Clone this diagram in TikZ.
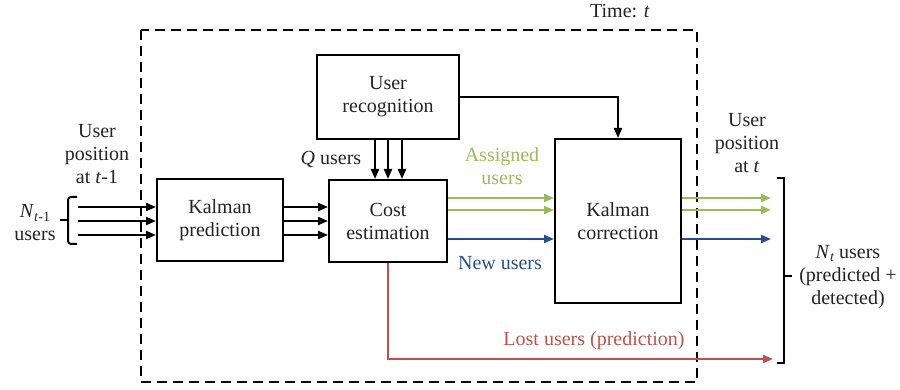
\documentclass[tikz,border=0pt]{standalone}
\usepackage{fontspec}
\setmainfont{Liberation Serif}
\usetikzlibrary{arrows.meta}
\definecolor{agreen}{RGB}{155,187,89}
\definecolor{ablue}{RGB}{38,78,135}
\definecolor{ared}{RGB}{192,80,77}
\definecolor{txt}{RGB}{35,35,35}
\newcommand{\mysub}[1]{\raisebox{-0.35ex}{\fontsize{14}{14}\selectfont #1}}
\begin{document}
\begin{tikzpicture}[x=1pt,y=-1pt,
  font=\rmfamily\fontsize{20}{23}\selectfont,
  box/.style={draw=black, line width=2pt, align=center, inner sep=0pt, text=txt},
  lbl/.style={align=center, inner sep=0pt, text=txt},
  conn/.style={line width=2pt, -{Triangle[length=10pt,width=8pt]}},
  frame/.style={line width=2pt, dash pattern=on 10pt off 6pt}
]
\useasboundingbox (0,0) rectangle (900,390);

% dashed time frame
\draw[frame] (141,30) rectangle (697,382);
\node[lbl] (time) at (620,11) {Time: \textit{t}};

% blocks
\node[box, minimum width=126pt, minimum height=82pt] (kp) at (220,220) {Kalman\\prediction};
\node[box, minimum width=118pt, minimum height=82pt] (ce) at (388,221) {Cost\\estimation};
\node[box, minimum width=142pt, minimum height=84pt] (ur) at (388,97) {User\\recognition};
\node[box, minimum width=126pt, minimum height=164pt] (kc) at (618,221) {Kalman\\correction};

% input side
\coordinate (in1) at (78,207);
\coordinate (in2) at (78,221);
\coordinate (in3) at (78,235);
\draw[line width=2pt, rounded corners=3pt] (77,197) -- (68,197) -- (68,244) -- (77,244);
\draw[line width=2pt] (68,220.5) -- (60,220.5);
\draw[conn] (in1) -- (in1 -| kp.west);
\draw[conn] (in2) -- (in2 -| kp.west);
\draw[conn] (in3) -- (in3 -| kp.west);
\node[lbl] (posin) at (97,154) {User\\position\\at \textit{t}-1};
\node[lbl] (nin) at (35,223) {\textit{N}\mysub{\textit{t}-1}\\users};

% prediction -> cost
\draw[conn] (in1 -| kp.east) -- (in1 -| ce.west);
\draw[conn] (in2 -| kp.east) -- (in2 -| ce.west);
\draw[conn] (in3 -| kp.east) -- (in3 -| ce.west);

% recognition -> cost
\draw[conn] ([xshift=-13pt]ur.south) -- ([xshift=-13pt]ce.north);
\draw[conn] (ur.south) -- (ce.north);
\draw[conn] ([xshift=14pt]ur.south) -- ([xshift=14pt]ce.north);
\node[lbl] (q) at (331,160) {\textit{Q} users};

% recognition -> correction
\draw[conn] (ur.east) -| (kc.north);

% cost -> correction
\coordinate (o1) at (771,198);
\coordinate (o2) at (771,210);
\coordinate (o3) at (771,239);
\draw[conn, agreen] (o1 -| ce.east) -- (o1 -| kc.west);
\draw[conn, agreen] (o2 -| ce.east) -- (o2 -| kc.west);
\draw[conn, ablue] (o3 -| ce.east) -- (o3 -| kc.west);
\node[lbl, text=agreen] (ass) at (502,166) {Assigned\\users};
\node[lbl, text=ablue] (new) at (500,263) {New users};

% correction -> output
\draw[conn, agreen] (o1 -| kc.east) -- (o1);
\draw[conn, agreen] (o2 -| kc.east) -- (o2);
\draw[conn, ablue] (o3 -| kc.east) -- (o3);

% lost users
\coordinate (lost) at (773,359);
\draw[conn, ared] (ce.south) |- (lost);
\node[lbl, text=ared] (lostl) at (594,341) {Lost users (prediction)};

% output bracket
\draw[line width=2pt] (777,178) -- (784,178) -- (784,363) -- (777,363);
\draw[line width=2pt] (784,276) -- (792,276);
\node[lbl] (posout) at (747,143) {User\\position\\at \textit{t}};
\node[lbl] (nout) at (848,277) {\textit{N}\mysub{\textit{t}} users\\(predicted +\\detected)};
\end{tikzpicture}
\end{document}
